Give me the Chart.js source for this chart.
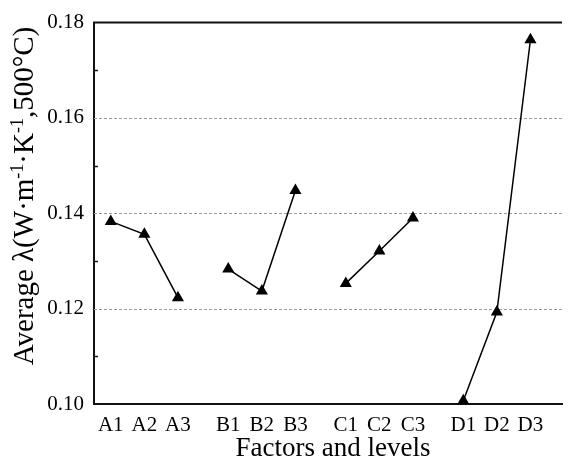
<!DOCTYPE html>
<html>
<head>
<meta charset="utf-8">
<script src="https://cdn.jsdelivr.net/npm/chart.js@4/dist/chart.umd.min.js"></script>
<style>
html,body{margin:0;padding:0;background:#fff;}
#wrap{width:569px;height:464px;}
</style>
</head>
<body>
<div id="wrap"><canvas id="c" width="569" height="464"></canvas></div>
<script>
// ---- data ----
const levels = ['A1','A2','A3','B1','B2','B3','C1','C2','C3','D1','D2','D3'];
const factorA = [0.1383, 0.1356, 0.1223];
const factorB = [0.1283, 0.1237, 0.1448];
const factorC = [0.1253, 0.1321, 0.1390];
const factorD = [0.1007, 0.1193, 0.1764];
const yTicks = [0.10, 0.12, 0.14, 0.16, 0.18];
const gridValues = [0.12, 0.14, 0.16];
const minorTicks = [0.11, 0.13, 0.15, 0.17];
const xTitle = 'Factors and levels';
const yTitleParts = [['Average λ(W·m', false], ['-1', true], ['·K', false], ['-1', true], [',500°C)', false]];

// position of each level: groups of three separated by a gap
const groups = [factorA, factorB, factorC, factorD];
const pos = (g, i) => g * 3.5 + i + 1;
const positions = [];
groups.forEach((arr, g) => arr.forEach((v, i) => positions.push(pos(g, i))));

const datasets = groups.map((arr, g) => ({
  data: arr.map((v, i) => ({x: pos(g, i), y: v})),
  borderColor: '#000',
  backgroundColor: '#000',
  borderWidth: 1.5,
  pointStyle: 'triangle',
  pointRadius: 7,
  pointBackgroundColor: '#000',
  pointBorderColor: '#000',
  pointBorderWidth: 0,
  showLine: true,
  clip: false,
  tension: 0
}));

const serif = '"Liberation Serif", "Times New Roman", serif';

const decor = {
  id: 'decor',
  beforeDatasetsDraw(chart) {
    const {ctx, chartArea: a, scales: {y}} = chart;
    ctx.save();
    ctx.strokeStyle = '#9a9a9a';
    ctx.lineWidth = 1;
    ctx.setLineDash([3, 2]);
    gridValues.forEach(v => {
      const py = Math.round(y.getPixelForValue(v)) + 0.5;
      ctx.beginPath();
      ctx.moveTo(a.left, py);
      ctx.lineTo(a.right, py);
      ctx.stroke();
    });
    ctx.restore();
  },
  afterDraw(chart) {
    const {ctx, chartArea: a, scales: {y}} = chart;
    ctx.save();
    // top frame line
    ctx.strokeStyle = '#111';
    ctx.lineWidth = 2;
    ctx.beginPath();
    ctx.moveTo(a.left - 1, a.top);
    ctx.lineTo(a.right, a.top);
    ctx.stroke();
    // minor ticks (inward)
    ctx.lineWidth = 1.5;
    minorTicks.forEach(v => {
      const py = Math.round(y.getPixelForValue(v)) + 0.5;
      ctx.beginPath();
      ctx.moveTo(a.left, py);
      ctx.lineTo(a.left + 4, py);
      ctx.stroke();
    });
    // x title
    ctx.fillStyle = '#000';
    ctx.font = '27px ' + serif;
    ctx.textAlign = 'center';
    ctx.textBaseline = 'alphabetic';
    ctx.fillText(xTitle, 333, 456);
    // y title (rotated, with superscripts)
    const big = '29px ' + serif, small = '18px ' + serif;
    let total = 0;
    yTitleParts.forEach(([t, sup]) => { ctx.font = sup ? small : big; total += ctx.measureText(t).width; });
    ctx.translate(33, 196);
    ctx.rotate(-Math.PI / 2);
    let x = -total / 2;
    ctx.textAlign = 'left';
    yTitleParts.forEach(([t, sup]) => {
      ctx.font = sup ? small : big;
      ctx.fillText(t, x, sup ? -10 : 0);
      x += ctx.measureText(t).width;
    });
    ctx.restore();
  }
};

new Chart(document.getElementById('c'), {
  type: 'scatter',
  data: {datasets},
  options: {
    responsive: false,
    devicePixelRatio: 1,
    animation: false,
    layout: {padding: {left: 0, top: 21, right: 0, bottom: 0}},
    plugins: {legend: {display: false}, tooltip: {enabled: false}},
    scales: {
      x: {
        type: 'linear',
        min: 0.5,
        max: 14.44,
        afterFit: s => { s.height = 60; },
        afterBuildTicks: s => { s.ticks = positions.map(v => ({value: v})); },
        ticks: {
          autoSkip: false,
          maxRotation: 0,
          padding: 9,
          color: '#000',
          font: {family: serif, size: 21},
          callback: v => levels[positions.indexOf(v)] ?? ''
        },
        grid: {display: false, drawTicks: false},
        border: {display: true, color: '#111', width: 2}
      },
      y: {
        min: 0.10,
        max: 0.18,
        afterFit: s => { s.width = 94; },
        afterBuildTicks: s => { s.ticks = yTicks.map(v => ({value: v})); },
        ticks: {
          padding: 10,
          color: '#000',
          font: {family: serif, size: 21},
          callback: v => Number(v).toFixed(2)
        },
        grid: {display: false, drawTicks: false},
        border: {display: true, color: '#111', width: 2}
      }
    }
  },
  plugins: [decor]
});
</script>
</body>
</html>
